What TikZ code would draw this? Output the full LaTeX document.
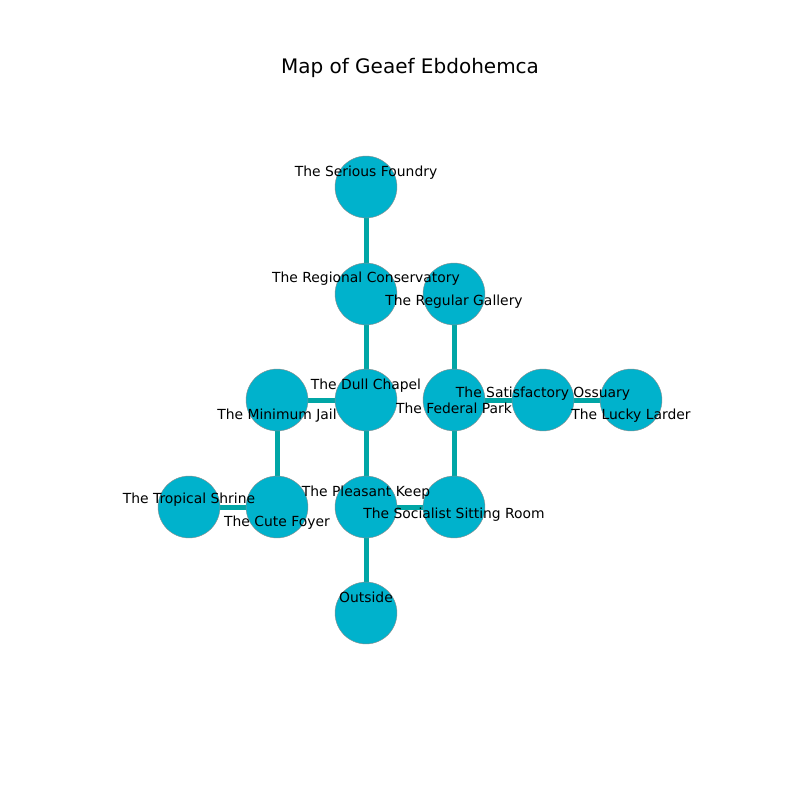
\documentclass[tikz,border=0pt]{standalone}
\usepackage{fontspec}
\setmainfont{DejaVu Sans}
\begin{document}
\begin{tikzpicture}[x=0.72pt,y=-0.72pt,
  room/.style={circle,draw=black!45,line width=0.3pt,fill={rgb,255:red,0;green,178;blue,204},minimum size=44.6pt,inner sep=0pt},
  lbl/.style={font=\fontsize{10}{12}\selectfont,inner sep=0pt,anchor=center},
  link/.style={draw={rgb,255:red,0;green,166;blue,166},line width=3.6pt}]
\useasboundingbox (0,0) rectangle (800,800);
\node[font=\fontsize{14.4}{17}\selectfont,inner sep=0pt] (title) at (410,68) {Map of Geaef Ebdohemca};
\coordinate (sf) at (366,187);
\coordinate (rc) at (366,294);
\coordinate (rg) at (454,294);
\coordinate (mj) at (277,400);
\coordinate (dc) at (366,400);
\coordinate (fp) at (454,400);
\coordinate (so) at (543,400);
\coordinate (ll) at (631,400);
\coordinate (ts) at (189,507);
\coordinate (cf) at (277,507);
\coordinate (pk) at (366,507);
\coordinate (ss) at (454,507);
\coordinate (out) at (366,613);
\foreach \a/\b in {sf/rc,rc/dc,rg/fp,mj/dc,dc/pk,fp/so,so/ll,fp/ss,mj/cf,ts/cf,pk/ss,pk/out}
  \draw[link] (\a) -- (\b);
\foreach \c in {sf,rc,rg,mj,dc,fp,so,ll,ts,cf,pk,ss,out}
  \node[room] (n\c) at (\c) {};
\node[lbl] (lsf) at (366,173) {The Serious Foundry};
\node[lbl] (lrc) at (366,279) {The Regional Conservatory};
\node[lbl] (lrg) at (454,302) {The Regular Gallery};
\node[lbl] (lmj) at (277,416) {The Minimum Jail};
\node[lbl] (ldc) at (366,386) {The Dull Chapel};
\node[lbl] (lfp) at (454,408) {The Federal Park};
\node[lbl] (lso) at (543,394) {The Satisfactory Ossuary};
\node[lbl] (lll) at (631,416) {The Lucky Larder};
\node[lbl] (lts) at (189,500) {The Tropical Shrine};
\node[lbl] (lcf) at (277,523) {The Cute Foyer};
\node[lbl] (lpk) at (366,493) {The Pleasant Keep};
\node[lbl] (lss) at (454,515) {The Socialist Sitting Room};
\node[lbl] (lout) at (366,597) {Outside};
\end{tikzpicture}
\end{document}
